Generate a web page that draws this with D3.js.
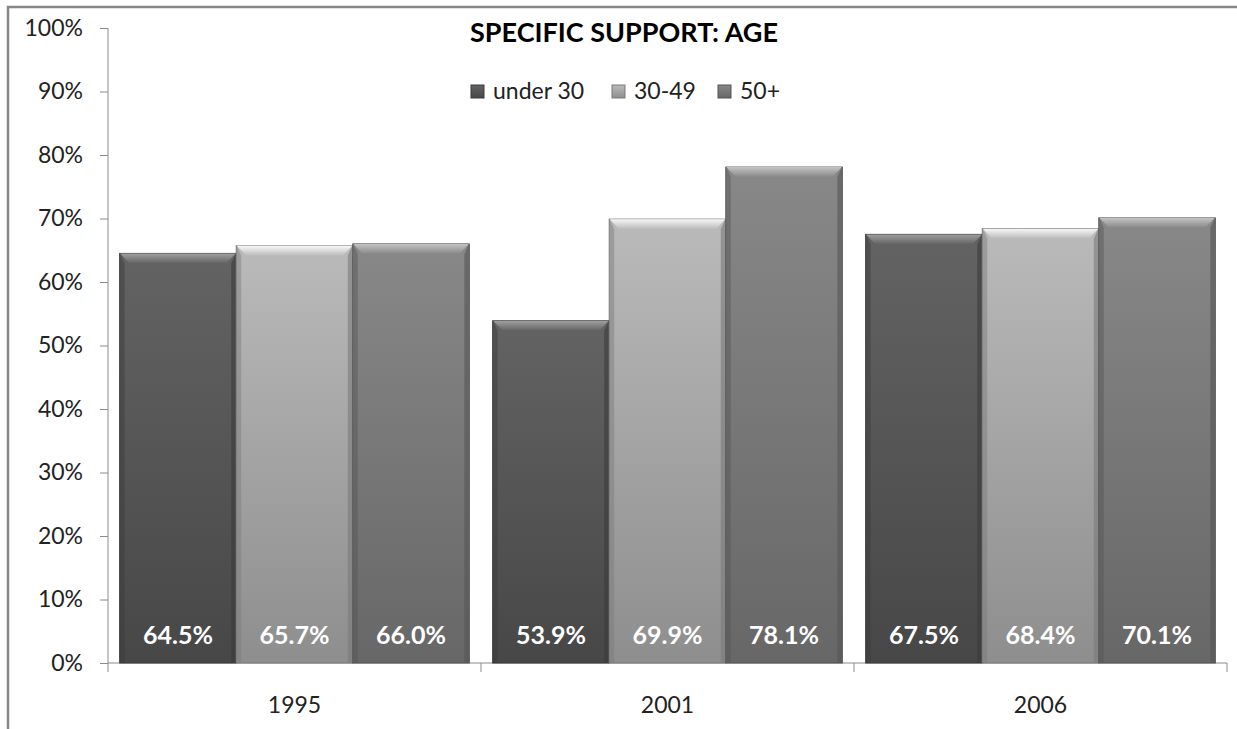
<!DOCTYPE html>
<html>
<head>
<meta charset="utf-8">
<script src="https://cdn.jsdelivr.net/npm/d3@7"></script>
<style>
  body { margin: 0; background: #fff; }
  svg { display: block; font-family: Lato, "Open Sans", sans-serif; }
</style>
</head>
<body>
<div id="viz"></div>
<script>
// chart data
var years = ["1995", "2001", "2006"];
var groups = ["under 30", "30-49", "50+"];
var under30 = [64.5, 53.9, 67.5];
var age30to49 = [65.7, 69.9, 68.4];
var age50plus = [66.0, 78.1, 70.1];
var yTicks = [0, 10, 20, 30, 40, 50, 60, 70, 80, 90, 100];

var seriesValues = [under30, age30to49, age50plus];

var width = 1237,
    height = 729;

var margin = { top: 28, left: 108, right: 10, bottom: 66 };

// fill colours per series: top / bottom of the gradient
var shades = [
  { top: "#636363", bottom: "#474747", edge: "#3a3a3a", hi: "#a0a0a0" },
  { top: "#bababa", bottom: "#8e8e8e", edge: "#7a7a7a", hi: "#f8f8f8" },
  { top: "#888888", bottom: "#676767", edge: "#555555", hi: "#c4c4c4" }
];

var svg = d3.select("#viz")
  .append("svg")
  .attr("width", width)
  .attr("height", height);

// outer chart border (only left and top visible)
svg.append("path")
  .attr("d", "M8," + height + "V7H" + width)
  .attr("fill", "none")
  .attr("stroke", "#878787")
  .attr("stroke-width", 2.5);

var defs = svg.append("defs");
shades.forEach(function(s, i) {
  var g = defs.append("linearGradient")
    .attr("id", "grad" + i)
    .attr("x1", 0).attr("y1", 0).attr("x2", 0).attr("y2", 1);
  g.append("stop").attr("offset", "0%").attr("stop-color", s.top);
  g.append("stop").attr("offset", "100%").attr("stop-color", s.bottom);

  var h = defs.append("linearGradient")
    .attr("id", "bevel" + i)
    .attr("x1", 0).attr("y1", 0).attr("x2", 0).attr("y2", 1);
  h.append("stop").attr("offset", "0%").attr("stop-color", s.hi);
  h.append("stop").attr("offset", "100%").attr("stop-color", s.top);
});

var x0 = d3.scaleBand()
  .domain(years)
  .range([margin.left, 1227])
  .paddingInner(0)
  .paddingOuter(0);

var x1 = d3.scaleBand()
  .domain(groups)
  .range([0, x0.bandwidth()])
  .paddingInner(0)
  .paddingOuter(0.1);

var y = d3.scaleLinear()
  .domain([0, 100])
  .range([663, margin.top]);

// y axis
var yAxis = svg.append("g")
  .attr("transform", "translate(" + margin.left + ",0)")
  .call(d3.axisLeft(y).tickValues(yTicks).tickSize(8).tickPadding(17)
    .tickFormat(function(d) { return d + "%"; }));
yAxis.select(".domain").attr("stroke", "#8c8c8c").attr("d", "M0," + y(100) + "V" + y(0));
yAxis.selectAll(".tick line").attr("stroke", "#8c8c8c");
yAxis.selectAll(".tick text")
  .attr("fill", "#222")
  .style("font-size", "23px")
  .style("font-family", "Lato, sans-serif");

// x axis
var xAxis = svg.append("g")
  .attr("transform", "translate(0," + y(0) + ")");
xAxis.append("line")
  .attr("x1", x0.range()[0]).attr("x2", x0.range()[1])
  .attr("stroke", "#8c8c8c");
var bounds = years.map(function(d) { return x0(d); }).concat([x0.range()[1]]);
xAxis.selectAll(".xtick")
  .data(bounds)
  .enter().append("line")
  .attr("x1", function(d) { return d; })
  .attr("x2", function(d) { return d; })
  .attr("y1", 0).attr("y2", 9)
  .attr("stroke", "#8c8c8c");
xAxis.selectAll(".xlabel")
  .data(years)
  .enter().append("text")
  .attr("x", function(d) { return x0(d) + x0.bandwidth() / 2; })
  .attr("y", 50)
  .attr("text-anchor", "middle")
  .attr("fill", "#222")
  .style("font-size", "23px")
  .text(function(d) { return d; });

// bars
var barData = [];
years.forEach(function(yr, i) {
  groups.forEach(function(g, j) {
    barData.push({ year: yr, group: g, idx: j, value: seriesValues[j][i] });
  });
});

var bars = svg.selectAll(".bar")
  .data(barData)
  .enter().append("g")
  .attr("class", "bar")
  .attr("transform", function(d) { return "translate(" + (x0(d.year) + x1(d.group)) + ",0)"; });

var bw = x1.bandwidth();
var bev = 10;

bars.append("rect")
  .attr("x", 0)
  .attr("y", function(d) { return y(d.value); })
  .attr("width", bw)
  .attr("height", function(d) { return y(0) - y(d.value); })
  .attr("fill", function(d) { return "url(#grad" + d.idx + ")"; })
  .attr("stroke", function(d) { return shades[d.idx].edge; })
  .attr("stroke-width", 1);

// bevel: top strip and side shading
bars.append("path")
  .attr("d", function(d) {
    var t = y(d.value);
    return "M0.5," + t + "H" + (bw - 0.5) + "L" + (bw - bev) + "," + (t + bev) + "H" + bev + "Z";
  })
  .attr("fill", function(d) { return "url(#bevel" + d.idx + ")"; });

bars.append("path")
  .attr("d", function(d) {
    var t = y(d.value);
    return "M0.5," + t + "L" + bev / 2 + "," + (t + bev) + "V" + y(0) + "H0.5Z";
  })
  .attr("fill", function(d) { return shades[d.idx].edge; })
  .attr("opacity", 0.45);

bars.append("path")
  .attr("d", function(d) {
    var t = y(d.value);
    return "M" + (bw - 0.5) + "," + t + "L" + (bw - bev / 2) + "," + (t + bev) + "V" + y(0) + "H" + (bw - 0.5) + "Z";
  })
  .attr("fill", function(d) { return shades[d.idx].edge; })
  .attr("opacity", 0.6);

// value labels
bars.append("text")
  .attr("x", bw / 2)
  .attr("y", 644)
  .attr("text-anchor", "middle")
  .attr("fill", "#fff")
  .style("font-size", "25px")
  .style("font-weight", "bold")
  .text(function(d) { return d.value.toFixed(1) + "%"; });

// title
svg.append("text")
  .attr("x", 624)
  .attr("y", 42)
  .attr("text-anchor", "middle")
  .attr("fill", "#000")
  .style("font-size", "27px")
  .style("font-weight", "bold")
  .text("SPECIFIC SUPPORT: AGE");

// legend
var legendX = [471, 612, 718];
var legend = svg.selectAll(".legend")
  .data(groups)
  .enter().append("g")
  .attr("class", "legend")
  .attr("transform", function(d, i) { return "translate(" + legendX[i] + ",85)"; });

legend.append("rect")
  .attr("width", 13)
  .attr("height", 13)
  .attr("fill", function(d, i) { return "url(#grad" + i + ")"; })
  .attr("stroke", function(d, i) { return shades[i].edge; });

legend.append("text")
  .attr("x", 22)
  .attr("y", 14)
  .attr("fill", "#222")
  .style("font-size", "23px")
  .text(function(d) { return d; });
</script>
</body>
</html>
